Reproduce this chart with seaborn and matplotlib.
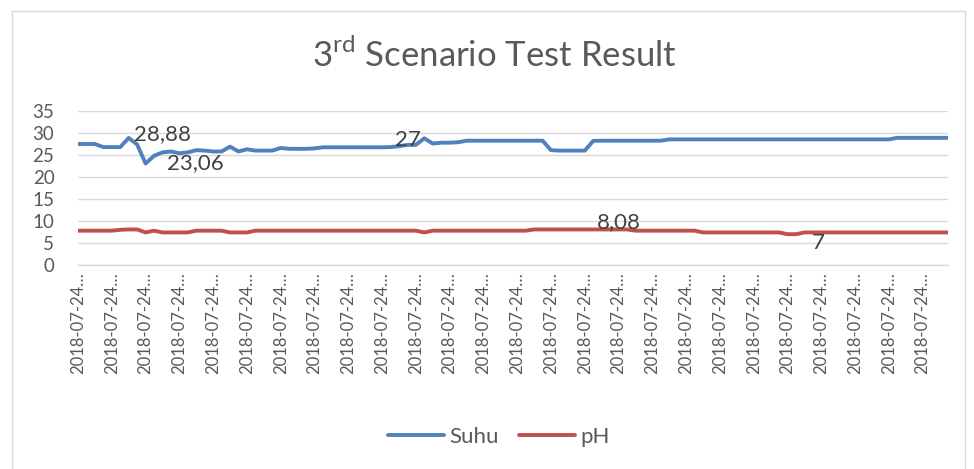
import numpy as np
import pandas as pd
import matplotlib
matplotlib.use("Agg")
import matplotlib.pyplot as plt
from matplotlib.patches import Rectangle
import seaborn as sns

# ---- data ----
suhu = [
    27.5, 27.5, 27.5, 26.8, 26.8, 26.8, 28.88, 27.4, 23.06, 24.8,
    25.6, 25.8, 25.4, 25.6, 26.1, 26.0, 25.8, 25.8, 26.9, 25.8,
    26.3, 26.0, 26.0, 26.0, 26.6, 26.4, 26.4, 26.4, 26.5, 26.75,
    26.75, 26.75, 26.75, 26.75, 26.75, 26.75, 26.75, 26.8, 27.0, 27.3,
    27.3, 28.8, 27.6, 27.8, 27.8, 27.9, 28.25, 28.25, 28.25, 28.25,
    28.25, 28.25, 28.25, 28.25, 28.25, 28.25, 26.1, 26.0, 26.0, 26.0,
    26.0, 28.2, 28.25, 28.25, 28.25, 28.25, 28.25, 28.25, 28.25, 28.25,
    28.55, 28.55, 28.55, 28.55, 28.55, 28.55, 28.55, 28.55, 28.55, 28.55,
    28.55, 28.55, 28.55, 28.55, 28.55, 28.55, 28.55, 28.55, 28.55, 28.55,
    28.55, 28.55, 28.55, 28.55, 28.55, 28.55, 28.55, 28.9, 28.9, 28.9,
    28.9, 28.9, 28.9, 28.9,
]
ph = [
    7.8, 7.8, 7.8, 7.8, 7.8, 8.0, 8.08, 8.08, 7.4, 7.8,
    7.4, 7.4, 7.4, 7.4, 7.8, 7.8, 7.8, 7.8, 7.4, 7.4,
    7.4, 7.8, 7.8, 7.8, 7.8, 7.8, 7.8, 7.8, 7.8, 7.8,
    7.8, 7.8, 7.8, 7.8, 7.8, 7.8, 7.8, 7.8, 7.8, 7.8,
    7.8, 7.4, 7.8, 7.8, 7.8, 7.8, 7.8, 7.8, 7.8, 7.8,
    7.8, 7.8, 7.8, 7.8, 8.08, 8.08, 8.08, 8.08, 8.08, 8.08,
    8.08, 8.08, 8.08, 8.08, 8.08, 8.08, 7.8, 7.8, 7.8, 7.8,
    7.8, 7.8, 7.8, 7.8, 7.4, 7.4, 7.4, 7.4, 7.4, 7.4,
    7.4, 7.4, 7.4, 7.4, 7.0, 7.0, 7.4, 7.4, 7.4, 7.4,
    7.4, 7.4, 7.4, 7.4, 7.4, 7.4, 7.4, 7.4, 7.4, 7.4,
    7.4, 7.4, 7.4, 7.4,
]
series_names = ["Suhu", "pH"]
x_label_text = "2018-07-24\u2026"
label_step = 4
y_ticks = [0, 5, 10, 15, 20, 25, 30, 35]

# data labels: (series, index, text)
point_labels = [
    ("Suhu", 6, "28,88"),
    ("Suhu", 8, "23,06"),
    ("Suhu", 38, "27"),
    ("pH", 64, "8,08"),
    ("pH", 85, "7"),
]
# pixel offsets of the label text from its point
label_offsets = [(34, 4), (50, 0), (9, 6), (0, 7), (22, -9)]

n = len(suhu)
df = pd.DataFrame({
    "idx": list(range(n)) * 2,
    "value": suhu + ph,
    "series": [series_names[0]] * n + [series_names[1]] * n,
})

sns.set_theme(style="white")
plt.rcParams["font.family"] = ["Lato", "DejaVu Sans"]
plt.rcParams["mathtext.fontset"] = "custom"
plt.rcParams["mathtext.rm"] = "Lato"

text_color = "#595959"
colors = {"Suhu": "#4F81BD", "pH": "#C0504D"}

fig = plt.figure(figsize=(9.74, 4.69), dpi=100)
ax = fig.add_axes([78 / 974, 1 - 265 / 469, 870 / 974, 154 / 469])

sns.lineplot(data=df, x="idx", y="value", hue="series", palette=colors,
             linewidth=2.8, ax=ax, legend=True)

ax.set_xlim(0, n - 1)
ax.set_ylim(0, 35)
ax.set_yticks(y_ticks)
ax.set_yticklabels([str(t) for t in y_ticks], fontsize=13.5, color=text_color)
xt = list(range(0, n, label_step))
ax.set_xticks(xt)
ax.set_xticklabels([x_label_text] * len(xt), rotation=90, fontsize=12,
                   color=text_color, va="top")
ax.tick_params(axis="both", length=0)
ax.tick_params(axis="y", pad=17)
ax.tick_params(axis="x", pad=5)
ax.set_xlabel("")
ax.set_ylabel("")

ax.grid(axis="y", color="#d9d9d9", linewidth=1)
ax.set_axisbelow(True)
for s in ["left", "right", "top"]:
    ax.spines[s].set_visible(False)
ax.spines["bottom"].set_color("#d9d9d9")
ax.spines["bottom"].set_linewidth(1)

series_data = {"Suhu": suhu, "pH": ph}
for (name, i, txt), (dx, dy) in zip(point_labels, label_offsets):
    ax.annotate(txt, xy=(i, series_data[name][i]), xytext=(dx, dy),
                textcoords="offset pixels", ha="center", va="center",
                fontsize=16, color="#404040")

leg = ax.legend(loc="center", bbox_to_anchor=(499 / 974, 1 - 437 / 469),
                bbox_transform=fig.transFigure,
                ncol=2, frameon=False, fontsize=16, handlelength=2.5,
                columnspacing=0.9, handletextpad=0.25)
for t in leg.get_texts():
    t.set_color(text_color)
for h in leg.get_lines():
    h.set_linewidth(2.8)

fig.text(495 / 974, 1 - 55 / 469, r"3$^{\mathrm{rd}}$ Scenario Test Result",
         ha="center", va="center", fontsize=25, color=text_color)

fig.patches.append(Rectangle((12 / 974, -0.1), (965 - 12) / 974, 1.1 - 11 / 469,
                             transform=fig.transFigure, fill=False,
                             edgecolor="#d9d9d9", linewidth=1))

fig.savefig("out.png", dpi=100)
